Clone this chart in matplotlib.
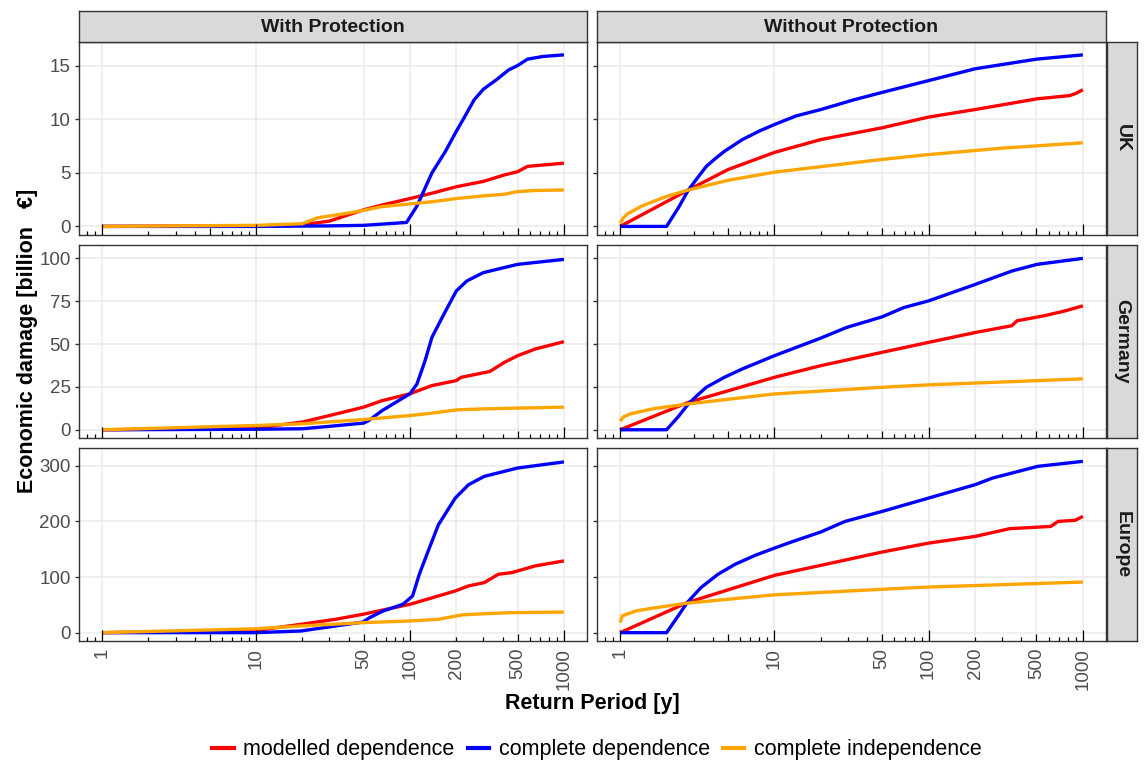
import numpy as np
import matplotlib
matplotlib.use('Agg')
import matplotlib.pyplot as plt
from matplotlib.lines import Line2D

plt.rcParams['font.family'] = ['Liberation Sans', 'DejaVu Sans']

# ---------------- data (return period [y], damage [billion EUR]) ----------------
series_names = ['modelled dependence', 'complete dependence', 'complete independence']
series_colors = ['#FF0000', '#0000FF', '#FFA500']
col_titles = ['With Protection', 'Without Protection']
row_titles = ['UK', 'Germany', 'Europe']
x_breaks = [1, 10, 50, 100, 200, 500, 1000]
y_breaks_uk = [0, 5, 10, 15]
y_breaks_de = [0, 25, 50, 75, 100]
y_breaks_eu = [0, 100, 200, 300]

# UK, with protection
uk_wp_mod_rp = [1, 10, 20, 30, 50, 66, 100, 139, 200, 300, 410, 500, 580, 1000]
uk_wp_mod = [0, 0.05, 0.15, 0.5, 1.55, 2.0, 2.6, 3.1, 3.7, 4.2, 4.8, 5.1, 5.6, 5.9]
uk_wp_cd_rp = [1, 10, 30, 50, 95, 111, 139, 170, 197, 226, 261, 300, 366, 438, 500, 580, 730, 1000]
uk_wp_cd = [0, 0, 0.05, 0.1, 0.37, 1.9, 5.0, 7.0, 8.7, 10.2, 11.8, 12.8, 13.7, 14.6, 15.0, 15.6, 15.85, 16.0]
uk_wp_ci_rp = [1, 10, 20, 25, 38, 50, 66, 100, 139, 200, 300, 410, 500, 650, 1000]
uk_wp_ci = [0, 0.1, 0.25, 0.8, 1.2, 1.5, 1.85, 2.1, 2.3, 2.6, 2.85, 3.0, 3.25, 3.35, 3.4]

# UK, without protection
uk_np_mod_rp = [1, 2.77, 5, 10, 20, 50, 100, 200, 505, 820, 900, 1000]
uk_np_mod = [0, 3.4, 5.3, 6.9, 8.1, 9.2, 10.2, 10.9, 11.9, 12.2, 12.4, 12.75]
uk_np_cd_rp = [1, 2, 2.4, 2.77, 3.2, 3.62, 4.2, 4.74, 6.2, 8, 10, 13.8, 20, 32.6, 50, 100, 200, 500, 1000]
uk_np_cd = [0, 0, 1.8, 3.4, 4.6, 5.6, 6.4, 7.0, 8.1, 8.9, 9.5, 10.3, 10.9, 11.8, 12.5, 13.6, 14.7, 15.6, 16.0]
uk_np_ci_rp = [1, 1.05, 1.11, 1.38, 2, 2.77, 5, 10, 50, 100, 300, 1000]
uk_np_ci = [0.3, 0.8, 1.15, 1.9, 2.8, 3.4, 4.3, 5.06, 6.25, 6.7, 7.3, 7.8]

# Germany, with protection
de_wp_mod_rp = [1, 10, 20, 30, 50, 66, 100, 139, 200, 215, 330, 410, 500, 650, 1000]
de_wp_mod = [0, 1, 4.5, 8.3, 13.2, 17, 21, 25.8, 28.7, 30.6, 34, 39.3, 43.2, 47.1, 51.4]
de_wp_cd_rp = [1, 10, 20, 30, 50, 54, 66, 88, 100, 111, 125, 139, 166, 200, 234, 300, 500, 1000]
de_wp_cd = [0, 0.3, 0.6, 2, 3.9, 5.4, 11.2, 18, 21, 26.7, 40, 54, 67.4, 81, 86.8, 91.7, 96.5, 99.4]
de_wp_ci_rp = [1, 10, 20, 50, 100, 139, 200, 300, 1000]
de_wp_ci = [0, 2.5, 3.5, 6, 8.3, 9.7, 11.6, 12.2, 13.2]

# Germany, without protection
de_np_mod_rp = [1, 2.77, 10, 20, 50, 100, 202, 346, 375, 560, 770, 1000]
de_np_mod = [0, 16, 30.6, 37.4, 45.2, 51, 56.8, 60.7, 63.6, 66.5, 69.4, 72.3]
de_np_cd_rp = [1, 2, 2.4, 2.77, 3.2, 3.62, 4.74, 6.2, 10, 13.8, 20, 29.4, 50, 69, 100, 202, 346, 505, 1000]
de_np_cd = [0, 0, 8, 15.1, 20.5, 24.8, 30.6, 35.5, 43.2, 48, 53.5, 59.7, 65.9, 71.3, 75.2, 84.9, 92.6, 96.5, 100]
de_np_ci_rp = [1, 1.05, 1.17, 1.62, 2.77, 10, 50, 100, 1000]
de_np_ci = [5, 7.5, 9.3, 12.2, 15.1, 20.9, 24.8, 26.2, 29.7]

# Europe, with protection
eu_wp_mod_rp = [1, 10, 19.6, 32.8, 49.4, 100, 153, 197, 240, 304, 375, 460, 650, 1000]
eu_wp_mod = [0, 4, 15, 24, 33, 51, 66, 75, 84, 90, 105, 108, 120, 129]
eu_wp_cd_rp = [1, 10, 19.6, 32.8, 49.4, 54.7, 67, 90, 104, 115, 131, 153, 197, 240, 304, 500, 1000]
eu_wp_cd = [0, 0, 3, 12, 19, 27, 39, 51, 66, 105, 146, 194, 242, 266, 281, 296, 307]
eu_wp_ci_rp = [1, 10, 19.6, 49.4, 100, 153, 218, 304, 460, 1000]
eu_wp_ci = [0, 7, 12, 18, 21, 24, 32, 34, 36, 37]

# Europe, without protection
eu_np_mod_rp = [1, 2.72, 10, 20, 50, 100, 200, 336, 620, 690, 890, 1000]
eu_np_mod = [0, 54, 103, 121, 145, 161, 173, 187, 191, 200, 202, 209]
eu_np_cd_rp = [1, 2, 2.35, 2.72, 3.34, 4.31, 5.57, 7.5, 10, 13.2, 20, 28.7, 50, 100, 200, 260, 510, 1000]
eu_np_cd = [0, 0, 28, 54, 81, 105, 123, 139, 152, 164, 181, 200, 218, 242, 266, 278, 299, 308]
eu_np_ci_rp = [1, 1.03, 1.26, 1.71, 2.72, 10, 50, 100, 1000]
eu_np_ci = [18, 30, 39, 45, 53, 68, 78, 82, 91]

# ---------------- assemble ----------------
panels = [
    [[(uk_wp_mod_rp, uk_wp_mod), (uk_wp_cd_rp, uk_wp_cd), (uk_wp_ci_rp, uk_wp_ci)],
     [(uk_np_mod_rp, uk_np_mod), (uk_np_cd_rp, uk_np_cd), (uk_np_ci_rp, uk_np_ci)]],
    [[(de_wp_mod_rp, de_wp_mod), (de_wp_cd_rp, de_wp_cd), (de_wp_ci_rp, de_wp_ci)],
     [(de_np_mod_rp, de_np_mod), (de_np_cd_rp, de_np_cd), (de_np_ci_rp, de_np_ci)]],
    [[(eu_wp_mod_rp, eu_wp_mod), (eu_wp_cd_rp, eu_wp_cd), (eu_wp_ci_rp, eu_wp_ci)],
     [(eu_np_mod_rp, eu_np_mod), (eu_np_cd_rp, eu_np_cd), (eu_np_ci_rp, eu_np_ci)]],
]
y_breaks = [y_breaks_uk, y_breaks_de, y_breaks_eu]
y_limits = [(-0.8, 17.2), (-4.8, 107.8), (-15.0, 332.0)]

W, H = 1144, 766
fig = plt.figure(figsize=(W / 100, H / 100), dpi=100)


def box(x0, y0, x1, y1):
    return [x0 / W, 1 - y1 / H, (x1 - x0) / W, (y1 - y0) / H]


cols = [(79, 587), (597, 1106)]
rows = [(42, 235), (245, 438), (448, 641)]
border = '#333333'
grid_c = '#EBEBEB'
tick_c = '#4D4D4D'
xlim = (10 ** -0.15, 10 ** 3.15)

# log-tick positions (annotation_logticks style)
logticks = []
for k in range(-1, 4):
    for m in range(1, 10):
        v = m * 10.0 ** k
        if xlim[0] <= v <= xlim[1]:
            logticks.append((v, 11 if m == 1 else (7 if m == 5 else 4)))

for r, (y0, y1) in enumerate(rows):
    for c, (x0, x1) in enumerate(cols):
        ax = fig.add_axes(box(x0, y0, x1, y1))
        ax.set_xscale('log')
        ax.set_xlim(*xlim)
        ax.set_ylim(*y_limits[r])
        ax.set_axisbelow(True)
        ax.grid(True, color=grid_c, lw=1.1)
        for (rp, vals), col in zip(panels[r][c], series_colors):
            ax.plot(rp, vals, color=col, lw=2.4, solid_capstyle='butt', zorder=3)
        ax.set_xticks(x_breaks)
        ax.xaxis.set_minor_locator(matplotlib.ticker.NullLocator())
        ax.set_yticks(y_breaks[r])
        ax.tick_params(axis='x', length=0, pad=5, labelsize=13.5, labelcolor=tick_c,
                       labelrotation=90, labelbottom=(r == 2))
        if r == 2:
            ax.set_xticklabels([str(v) for v in x_breaks])
        ax.tick_params(axis='y', length=3, width=1, color=border, pad=3,
                       labelsize=13.5, labelcolor=tick_c, labelleft=(c == 0))
        for s in ax.spines.values():
            s.set_color(border)
            s.set_linewidth(1.0)
        ph = y1 - y0
        for v, ln in logticks:
            ax.vlines(v, 0, ln / ph, transform=ax.get_xaxis_transform(),
                      color='black', lw=0.9, zorder=4)

# column strips
for c, (x0, x1) in enumerate(cols):
    sa = fig.add_axes(box(x0, 11, x1, 42))
    sa.set_facecolor('#D9D9D9')
    sa.set_xticks([]); sa.set_yticks([])
    for s in sa.spines.values():
        s.set_color(border); s.set_linewidth(1.0)
    sa.text(0.5, 0.47, col_titles[c], ha='center', va='center', fontsize=14,
            fontweight='bold', color='#1A1A1A', transform=sa.transAxes)

# row strips
for r, (y0, y1) in enumerate(rows):
    sa = fig.add_axes(box(1107, y0, 1137, y1))
    sa.set_facecolor('#D9D9D9')
    sa.set_xticks([]); sa.set_yticks([])
    for s in sa.spines.values():
        s.set_color(border); s.set_linewidth(1.0)
    sa.text(0.5, 0.5, row_titles[r], ha='center', va='center', fontsize=14,
            fontweight='bold', color='#1A1A1A', rotation=-90, transform=sa.transAxes)

# axis titles
fig.text(592 / W, 1 - 704 / H, 'Return Period [y]', ha='center', va='center',
         fontsize=15.5, fontweight='bold', color='black')
fig.text(28 / W, 1 - 341 / H, 'Economic damage [billion   \u20ac]', ha='center', va='center',
         rotation=90, fontsize=15.5, fontweight='bold', color='black')

# legend
handles = [Line2D([], [], color=col, lw=3) for col in series_colors]
fig.legend(handles, series_names, loc='center', bbox_to_anchor=(597 / W, 1 - 750 / H),
           ncol=3, frameon=False, fontsize=15.5, handlelength=1.0, handletextpad=0.45,
           columnspacing=0.6, borderaxespad=0)

fig.savefig('out.png', dpi=100)
